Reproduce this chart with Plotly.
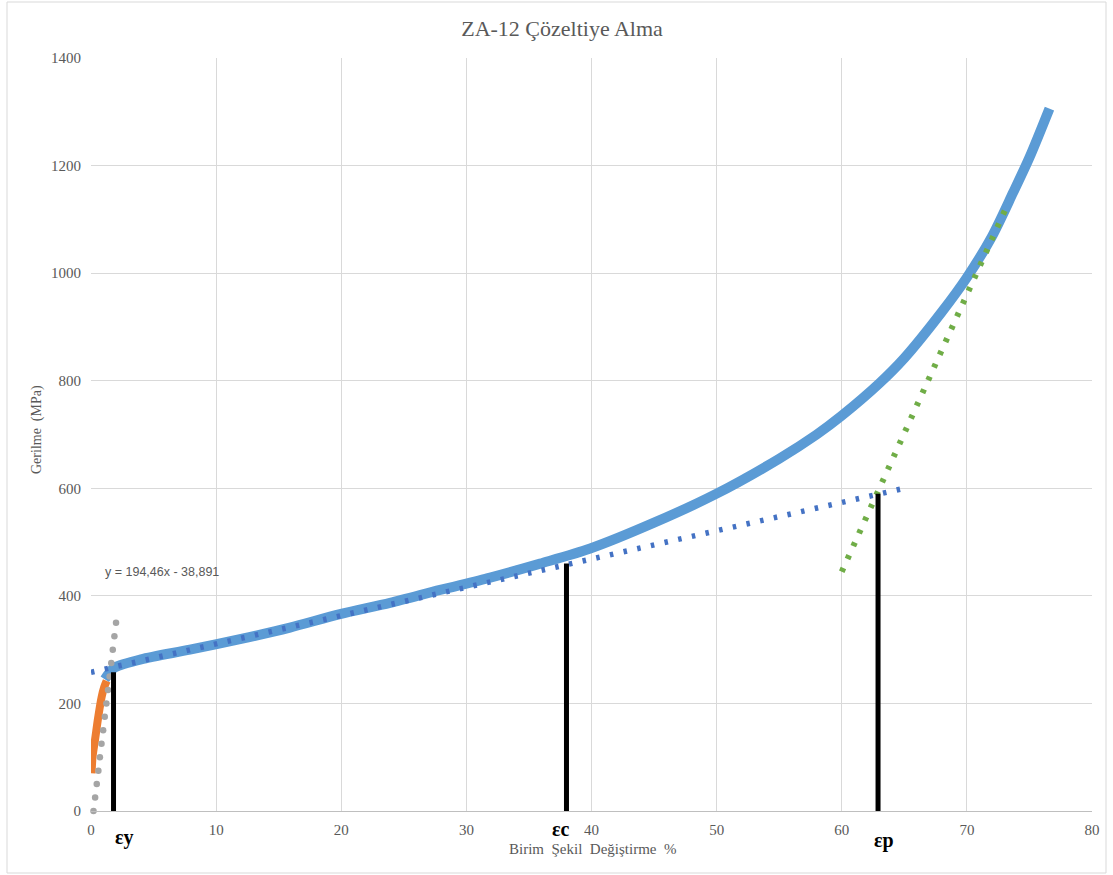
import plotly.graph_objects as go

# Main stress-strain curve (ZA-12)
strain_main = [1.1, 1.5, 1.9, 4.0, 7.9, 12.0, 15.9, 19.9, 23.9, 27.9, 31.9, 35.9, 39.9,
               45.0, 50.0, 55.0, 58.0, 60.0, 63.0, 65.0, 68.0, 70.0, 72.0, 73.7, 75.0, 76.6]
stress_main = [245, 258, 267, 282, 300, 320, 341, 366, 387, 411, 434, 460, 488,
               536, 590, 655, 700, 735, 795, 842, 928, 992, 1068, 1150, 1215, 1306]

# Elastic region (orange)
strain_el = [0.05, 0.12, 0.32, 0.58, 0.85, 1.05, 1.25]
stress_el = [70, 100, 132, 175, 212, 230, 242]

# Linear fit points (grey) y = 194,46x - 38,891
strain_fit = [0.20, 0.33, 0.46, 0.59, 0.71, 0.84, 0.97, 1.10, 1.23, 1.36, 1.49, 1.62, 1.74, 1.87, 2.00]
stress_fit = [0, 25, 50, 75, 100, 125, 150, 175, 200, 225, 250, 275, 300, 325, 350]

# Plastic trend line (dark blue dotted)
strain_tr = [0, 65]
stress_tr = [258, 600]

# Hardening tangent (green dotted)
strain_gr = [60.0, 73.3]
stress_gr = [445, 1130]

# Marker bars
eps_names = ["εy", "εc", "εp"]
eps_x = [1.8, 38.0, 62.9]
eps_top = [258, 460, 590]

x_ticks = [0, 10, 20, 30, 40, 50, 60, 70, 80]
y_ticks = [0, 200, 400, 600, 800, 1000, 1200, 1400]

SERIF = "Liberation Serif, Times New Roman, serif"
GRAY = "#595959"

fig = go.Figure()
fig.add_trace(go.Scatter(x=strain_main, y=stress_main, mode="lines",
                         line=dict(color="#5B9BD5", width=10, shape="spline", smoothing=0.8),
                         showlegend=False, hoverinfo="skip"))
fig.add_trace(go.Scatter(x=strain_el, y=stress_el, mode="lines",
                         line=dict(color="#ED7D31", width=8, shape="spline"),
                         showlegend=False, hoverinfo="skip"))
fig.add_trace(go.Scatter(x=strain_fit, y=stress_fit, mode="markers",
                         marker=dict(color="#A5A5A5", size=6.5),
                         cliponaxis=False, showlegend=False, hoverinfo="skip"))
fig.add_trace(go.Scatter(x=strain_tr, y=stress_tr, mode="lines",
                         line=dict(color="#4472C4", width=5.5, dash="3.5px,10.5px"),
                         showlegend=False, hoverinfo="skip"))
fig.add_trace(go.Scatter(x=strain_gr, y=stress_gr, mode="lines",
                         line=dict(color="#70AD47", width=6, dash="4px,10px"),
                         showlegend=False, hoverinfo="skip"))
for xv, top in zip(eps_x, eps_top):
    fig.add_trace(go.Scatter(x=[xv, xv], y=[0, top], mode="lines",
                             line=dict(color="black", width=5),
                             showlegend=False, hoverinfo="skip"))

# epsilon labels
eps_label_px = [(124, 837), (561, 829), (884, 840)]
for name, (px, py) in zip(eps_names, eps_label_px):
    fig.add_annotation(text="<b>%s</b>" % name, xref="paper", yref="paper",
                       x=(px - 91) / 1001, y=(811 - py) / 753,
                       showarrow=False, xanchor="center", yanchor="middle",
                       font=dict(family=SERIF, size=20, color="black"))

# equation
fig.add_annotation(text="y = 194,46x - 38,891", xref="paper", yref="paper",
                   x=(103 - 91) / 1001, y=(811 - 572) / 753, xanchor="left", yanchor="middle",
                   showarrow=False, font=dict(family="Liberation Sans, Arial, sans-serif", size=12.5, color=GRAY))

# axis titles
fig.add_annotation(text="Birim  Şekil  Değiştirme  %", xref="paper", yref="paper",
                   x=(592 - 91) / 1001, y=(811 - 849) / 753, xanchor="center", yanchor="middle",
                   showarrow=False, font=dict(family=SERIF, size=15, color=GRAY))
fig.add_annotation(text="Gerilme  (MPa)", xref="paper", yref="paper",
                   x=(37 - 91) / 1001, y=(811 - 430) / 753, xanchor="center", yanchor="middle",
                   textangle=-90, showarrow=False, font=dict(family=SERIF, size=14, color=GRAY))

# outer chart border
fig.add_shape(type="rect", xref="paper", yref="paper",
              x0=(7 - 91) / 1001, x1=(1106 - 91) / 1001,
              y0=(811 - 873) / 753, y1=(811 - 2) / 753,
              line=dict(color="#D9D9D9", width=1), layer="below")

fig.update_layout(
    width=1113, height=875,
    margin=dict(l=91, r=21, t=58, b=64),
    paper_bgcolor="white", plot_bgcolor="white",
    title=dict(text="ZA-12 Çözeltiye Alma", x=(562) / 1113, xanchor="center",
               y=1 - 28 / 875, yanchor="middle",
               font=dict(family=SERIF, size=22, color=GRAY)),
    xaxis=dict(range=[0, 80], tickvals=x_ticks, showgrid=True, gridcolor="#D9D9D9", gridwidth=1,
               zeroline=False, showline=True, linecolor="#BFBFBF", linewidth=1,
               ticks="", ticklabelstandoff=5,
               tickfont=dict(family=SERIF, size=15, color=GRAY)),
    yaxis=dict(range=[0, 1400], tickvals=y_ticks, showgrid=True, gridcolor="#D9D9D9", gridwidth=1,
               zeroline=False, showline=False, ticks="", ticklabelstandoff=9,
               tickfont=dict(family=SERIF, size=15, color=GRAY)),
)

fig.write_html("out.html")
